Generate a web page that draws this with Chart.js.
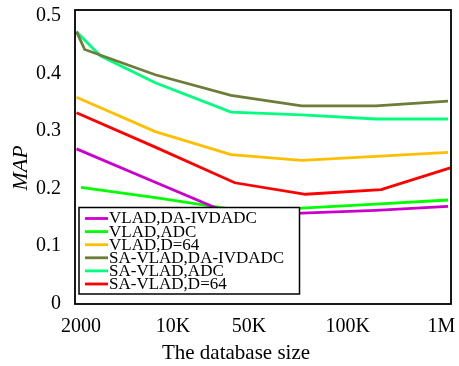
<!DOCTYPE html>
<html>
<head>
<meta charset="utf-8">
<script src="https://cdn.jsdelivr.net/npm/chart.js@4"></script>
<style>
html,body{margin:0;padding:0;background:#fff;}
canvas{display:block;}
</style>
</head>
<body>
<canvas id="c" width="459" height="366"></canvas>
<script>
// ---- data ----
const xTickLabels = ['2000', '10K', '50K', '100K', '1M'];
const xTickPositions = [0.06, 1.30, 2.32, 3.65, 4.91];
const yTickValues = [0, 0.1, 0.2, 0.3, 0.4, 0.5];

const seriesNames = ['VLAD,DA-IVDADC', 'VLAD,ADC', 'VLAD,D=64',
                     'SA-VLAD,DA-IVDADC', 'SA-VLAD,ADC', 'SA-VLAD,D=64'];
const seriesColors = ['#CC00CC', '#00FF00', '#FFBF00', '#6B7D39', '#00FF7F', '#FF0000'];

const xVladDa   = [0, 1.06, 2.08, 3.03, 4.03, 5];
const yVladDa   = [0.269, 0.211, 0.155, 0.157, 0.162, 0.169];
const xVladAdc  = [0.06, 1.06, 2.08, 3.03, 4.03, 5];
const yVladAdc  = [0.202, 0.184, 0.164, 0.166, 0.173, 0.180];
const xVlad64   = [0, 1.06, 2.08, 3.03, 4.03, 5];
const yVlad64   = [0.359, 0.299, 0.259, 0.249, 0.256, 0.263];
const xSaDa     = [0, 0.11, 1.06, 2.08, 3.03, 4.03, 5];
const ySaDa     = [0.473, 0.442, 0.398, 0.362, 0.344, 0.344, 0.352];
const xSaAdc    = [0, 0.32, 1.06, 2.08, 3.03, 4.03, 5];
const ySaAdc    = [0.473, 0.431, 0.384, 0.333, 0.328, 0.321, 0.321];
const xSa64     = [0, 1.06, 2.13, 3.08, 4.10, 5.03];
const ySa64     = [0.332, 0.272, 0.210, 0.190, 0.198, 0.236];

const xTitle = 'The database size';
const yTitle = 'MAP';

const seriesX = [xVladDa, xVladAdc, xVlad64, xSaDa, xSaAdc, xSa64];
const seriesY = [yVladDa, yVladAdc, yVlad64, ySaDa, ySaAdc, ySa64];

const datasets = seriesNames.map((name, i) => ({
  label: name,
  data: seriesX[i].map((x, j) => ({x: x, y: seriesY[i][j]})),
  borderColor: seriesColors[i],
  backgroundColor: seriesColors[i],
  borderWidth: 2.8,
  pointRadius: 0,
  tension: 0,
  fill: false
}));

const SERIF = '"Liberation Serif", "Times New Roman", serif';

const framePlugin = {
  id: 'frameAndLegend',
  afterDatasetsDraw(chart) {
    const ctx = chart.ctx;
    // legend box
    const L = 79, T = 207.5, R = 299.5, B = 294;
    ctx.save();
    ctx.fillStyle = '#fff';
    ctx.fillRect(L, T, R - L, B - T);
    ctx.strokeStyle = '#000';
    ctx.lineWidth = 1.5;
    ctx.strokeRect(L, T, R - L, B - T);
    ctx.font = '17px ' + SERIF;
    ctx.textBaseline = 'middle';
    ctx.textAlign = 'left';
    chart.data.datasets.forEach((ds, i) => {
      const y = 218.5 + 13.1 * i;
      ctx.strokeStyle = ds.borderColor;
      ctx.lineWidth = 2.8;
      ctx.beginPath();
      ctx.moveTo(85, y);
      ctx.lineTo(108, y);
      ctx.stroke();
      ctx.fillStyle = '#000';
      ctx.fillText(ds.label, 109, y + 0.5);
    });
    ctx.restore();
  },
  afterDraw(chart) {
    const ctx = chart.ctx;
    const a = chart.chartArea;
    ctx.save();
    ctx.strokeStyle = '#000';
    ctx.lineWidth = 1.8;
    ctx.strokeRect(a.left, a.top, a.right - a.left, a.bottom - a.top);
    // axis titles
    ctx.fillStyle = '#000';
    ctx.textAlign = 'center';
    ctx.textBaseline = 'middle';
    ctx.font = '21px ' + SERIF;
    ctx.fillText(xTitle, 236, 353);
    ctx.translate(21, 168);
    ctx.rotate(-Math.PI / 2);
    ctx.font = 'italic 22px ' + SERIF;
    ctx.fillText(yTitle, 0, 0);
    ctx.restore();
  }
};

new Chart(document.getElementById('c'), {
  type: 'line',
  data: {datasets: datasets},
  options: {
    responsive: false,
    animation: false,
    layout: {padding: {top: 10, right: 8, left: 0, bottom: 0}},
    plugins: {legend: {display: false}, tooltip: {enabled: false}, title: {display: false}},
    scales: {
      x: {
        type: 'linear',
        min: -0.02,
        max: 5.04,
        grid: {display: false, drawTicks: false},
        border: {display: false},
        afterBuildTicks: s => { s.ticks = xTickPositions.map(v => ({value: v})); },
        afterFit: s => { s.height = 62; s.paddingLeft = 0; s.paddingRight = 0; s.paddingTop = 0; s.paddingBottom = 0; },
        ticks: {
          autoSkip: false,
          maxRotation: 0,
          minRotation: 0,
          padding: 11,
          color: '#000',
          font: {family: SERIF, size: 20},
          callback: (v, i) => xTickLabels[i]
        }
      },
      y: {
        type: 'linear',
        min: -0.001,
        max: 0.5107,
        grid: {display: false, drawTicks: false},
        border: {display: false},
        afterBuildTicks: s => { s.ticks = yTickValues.map(v => ({value: v})); },
        afterFit: s => { s.width = 75; s.paddingLeft = 0; s.paddingRight = 0; s.paddingTop = 0; s.paddingBottom = 0; },
        ticks: {
          padding: 14,
          color: '#000',
          font: {family: SERIF, size: 20},
          callback: v => (v === 0 ? '0' : String(Math.round(v * 10) / 10))
        }
      }
    }
  },
  plugins: [framePlugin]
});
</script>
</body>
</html>
